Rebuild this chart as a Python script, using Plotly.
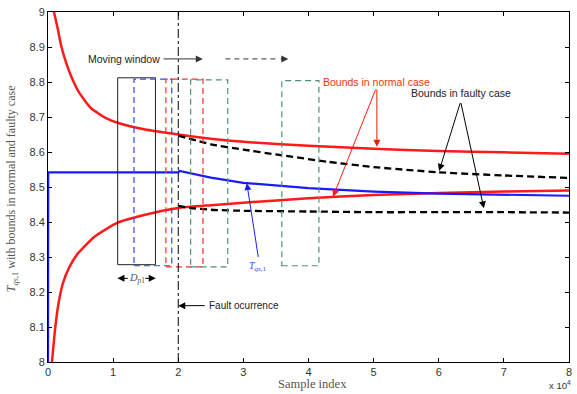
import plotly.graph_objects as go

# ---------------- data (sample index in units of 1e4) ----------------
up_norm_x = [0.092, 0.153, 0.204, 0.28, 0.357, 0.484, 0.662, 0.89, 1.095, 1.476, 2.0, 2.5, 3.0, 4.0, 5.0, 6.0, 7.0, 8.0]
up_norm_y = [9.0, 8.949, 8.902, 8.854, 8.816, 8.768, 8.725, 8.697, 8.682, 8.665, 8.65, 8.638, 8.629, 8.618, 8.609, 8.603, 8.599, 8.595]

lo_norm_x = [0.061, 0.102, 0.153, 0.229, 0.331, 0.458, 0.713, 1.069, 1.476, 2.0, 2.5, 3.0, 4.0, 5.0, 6.0, 7.0, 8.0]
lo_norm_y = [8.0, 8.082, 8.158, 8.225, 8.272, 8.31, 8.358, 8.398, 8.42, 8.44, 8.448, 8.455, 8.468, 8.477, 8.483, 8.487, 8.49]

tqs_x = [0.0, 0.003, 2.0, 2.02, 2.5, 3.0, 4.0, 5.0, 6.0, 7.0, 8.0]
tqs_y = [7.9, 8.542, 8.542, 8.546, 8.527, 8.512, 8.497, 8.487, 8.481, 8.478, 8.475]

up_fault_x = [2.0, 2.5, 3.0, 3.5, 4.3, 5.0, 6.0, 7.0, 8.0]
up_fault_y = [8.647, 8.622, 8.607, 8.593, 8.572, 8.557, 8.542, 8.533, 8.526]

lo_fault_x = [2.0, 2.2, 2.5, 3.0, 4.0, 5.0, 6.0, 7.0, 8.0]
lo_fault_y = [8.446, 8.44, 8.435, 8.432, 8.43, 8.428, 8.428, 8.428, 8.427]

fault_time = 2.0

# moving windows (x0, x1, y0, y1)
win_x0 = [1.07, 1.32, 1.81, 2.19, 3.59]
win_x1 = [1.65, 1.90, 2.38, 2.76, 4.16]
win_y0 = [8.278, 8.275, 8.272, 8.272, 8.275]
win_y1 = [8.812, 8.808, 8.808, 8.806, 8.804]

x_tick_vals = [0, 1, 2, 3, 4, 5, 6, 7, 8]
x_tick_text = ["0", "1", "2", "3", "4", "5", "6", "7", "8"]
y_tick_vals = [8.0, 8.1, 8.2, 8.3, 8.4, 8.5, 8.6, 8.7, 8.8, 8.9, 9.0]
y_tick_text = ["8", "8.1", "8.2", "8.3", "8.4", "8.5", "8.6", "8.7", "8.8", "8.9", "9"]

# ---------------- styles ----------------
win_styles = [
    dict(color="#222222", width=1, dash="solid"),
    dict(color="#3344ee", width=1.2, dash="6px,4px"),
    dict(color="#ee3333", width=1.2, dash="6px,4px"),
    dict(color="#4f9273", width=1.2, dash="6px,4px"),
    dict(color="#4f9273", width=1.2, dash="6px,4px"),
]

W, H = 577, 394
L, R, T, B = 48, 5, 12, 32
PW, PH = W - L - R, H - T - B

fig = go.Figure()

for xs, ys in [(up_norm_x, up_norm_y), (lo_norm_x, lo_norm_y)]:
    fig.add_trace(go.Scatter(x=xs, y=ys, mode="lines",
                             line=dict(color="#ff1a1a", width=2.5, shape="spline", smoothing=0.5),
                             showlegend=False, hoverinfo="skip"))

fig.add_trace(go.Scatter(x=tqs_x, y=tqs_y, mode="lines",
                         line=dict(color="#1a1aff", width=2.2),
                         showlegend=False, hoverinfo="skip"))

for xs, ys in [(up_fault_x, up_fault_y), (lo_fault_x, lo_fault_y)]:
    fig.add_trace(go.Scatter(x=xs, y=ys, mode="lines",
                             line=dict(color="#000000", width=2.3, dash="7px,4px", shape="spline", smoothing=0.5),
                             showlegend=False, hoverinfo="skip"))

# windows
for x0, x1, y0, y1, st in zip(win_x0, win_x1, win_y0, win_y1, win_styles):
    fig.add_shape(type="rect", xref="x", yref="y", x0=x0, x1=x1, y0=y0, y1=y1,
                  line=st, fillcolor="rgba(0,0,0,0)", layer="above")

# fault vertical line
fig.add_shape(type="line", xref="x", yref="paper", x0=fault_time, x1=fault_time, y0=0, y1=1,
              line=dict(color="#000000", width=1, dash="dashdot"))

def arrow(x, y, ax, ay, color="#000000", width=1):
    fig.add_annotation(x=x, y=y, ax=ax, ay=ay, xref="x", yref="y", axref="x", ayref="y",
                       text="", showarrow=True, arrowhead=2, arrowsize=1.4,
                       arrowwidth=width, arrowcolor=color)

sans = "Liberation Sans, Arial, sans-serif"
serif = "Liberation Serif, Times New Roman, serif"

# Moving window
fig.add_annotation(x=1.751, y=8.866, xref="x", yref="y", text="Moving window", showarrow=False,
                   xanchor="right", font=dict(family=sans, size=10.5, color="#222222"))
arrow(2.377, 8.866, 1.751, 8.866, color="#333333")
fig.add_shape(type="line", xref="x", yref="y", x0=2.724, x1=3.55, y0=8.866, y1=8.866,
              line=dict(color="#333333", width=1, dash="5px,4px"))
arrow(3.69, 8.866, 3.55, 8.866, color="#333333")

# Bounds in normal case
fig.add_annotation(x=5.05, y=8.801, xref="x", yref="y", text="Bounds in normal case", showarrow=False,
                   font=dict(family=sans, size=10.5, color="#ee3311"))
arrow(5.05, 8.615, 5.05, 8.783, color="#dd2200")
arrow(4.377, 8.472, 5.04, 8.783, color="#ff1a1a")

# Bounds in faulty case
fig.add_annotation(x=6.336, y=8.768, xref="x", yref="y", text="Bounds in faulty case", showarrow=False,
                   font=dict(family=sans, size=10.5, color="#222222"))
arrow(6.006, 8.546, 6.336, 8.744, color="#000000")
arrow(6.693, 8.439, 6.336, 8.744, color="#000000")

# T_qs,1 label
fig.add_annotation(x=3.232, y=8.272, xref="x", yref="y", text="<i>T</i><sub><i>qs</i>,1</sub>", showarrow=False,
                   font=dict(family=serif, size=10, color="#3344ee"))
arrow(3.053, 8.511, 3.232, 8.296, color="#1a1aff")

# D_p1
arrow(1.066, 8.239, 1.25, 8.239)
arrow(1.655, 8.239, 1.47, 8.239)
fig.add_annotation(x=1.36, y=8.239, xref="x", yref="y", text="<i>D</i><sub><i>p</i>1</sub>", showarrow=False,
                   font=dict(family=serif, size=10.5, color="#555555"))

# Fault occurrence
fig.add_annotation(x=2.438, y=8.161, xref="x", yref="y", text="Fault ocurrence", showarrow=False,
                   xanchor="left", font=dict(family=sans, size=10, color="#222222"))
arrow(2.0, 8.161, 2.43, 8.161)

# axis titles
fig.add_annotation(x=(12 - L) / PW, y=(H - B - 189) / PH, xref="paper", yref="paper",
                   xanchor="center", yanchor="middle",
                   text="<i>T</i><sub><i>qs</i>,1</sub> with bounds in normal and faulty case",
                   textangle=-90, showarrow=False, font=dict(family=serif, size=12, color="#555555"))
fig.add_annotation(x=(314 - L) / PW, y=-(384 - (H - B)) / PH, xref="paper", yref="paper",
                   xanchor="center", yanchor="middle",
                   text="Sample index", showarrow=False, font=dict(family=serif, size=12.5, color="#555555"))
fig.add_annotation(x=(576 - L) / PW, y=-(385 - (H - B)) / PH, xref="paper", yref="paper",
                   xanchor="right", yanchor="middle", text="x 10<sup>4</sup>", showarrow=False,
                   font=dict(family=sans, size=9.5, color="#333333"))

axis_common = dict(showline=True, linecolor="#000000", linewidth=1, mirror="ticks",
                   ticks="inside", ticklen=4, tickcolor="#000000", showgrid=False, zeroline=False,
                   tickfont=dict(family=sans, size=11, color="#333333"))

fig.update_layout(
    width=W, height=H,
    margin=dict(l=L, r=R, t=T, b=B),
    paper_bgcolor="white", plot_bgcolor="white",
    xaxis=dict(range=[0, 8], tickvals=x_tick_vals, ticktext=x_tick_text, **axis_common),
    yaxis=dict(range=[8, 9], tickvals=y_tick_vals, ticktext=y_tick_text, **axis_common),
    showlegend=False,
)

fig.write_html("out.html", config={"displayModeBar": False},
               post_script="document.body.style.margin='0';")
